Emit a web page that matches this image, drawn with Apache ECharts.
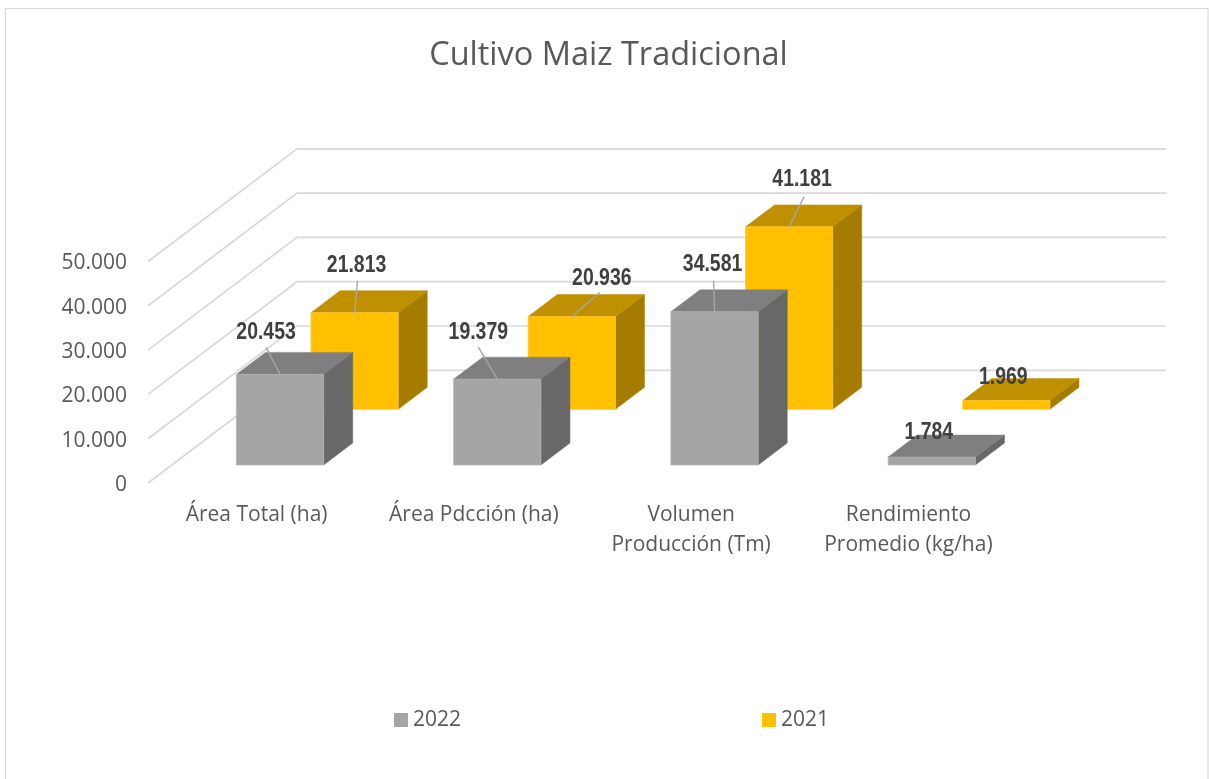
<!DOCTYPE html>
<html>
<head>
<meta charset="utf-8">
<style>html,body{margin:0;padding:0;background:#fff;overflow:hidden}#c{width:1209px;height:779px}</style>
<script src="https://cdn.jsdelivr.net/npm/echarts@6/dist/echarts.min.js"></script>
</head>
<body>
<div id="c"></div>
<script>
const categories = ['Área Total (ha)', 'Área Pdcción (ha)', 'Volumen\nProducción (Tm)', 'Rendimiento\nPromedio (kg/ha)'];
const values2022 = [20453, 19379, 34581, 1784];
const values2021 = [21813, 20936, 41181, 1969];
const axisTicks = [0, 10000, 20000, 30000, 40000, 50000];
const legendNames = ['2022', '2021'];

// oblique projection of the chart floor
const depthX = 149, depthY = -112.7;
// label offsets from the top-centre of each bar's front face [lx, ly, leaderX, leaderY] (leader null = none)
const labelLayout2022 = [[-14,-41.5,-14,-27],[-19,-46.5,-19,-32],[-2,-47.5,-1,-31],[-3,-25,null,null]];
const labelLayout2021 = [[2,-47.5,3,-32],[30,-38.5,28,-24],[13,-47.5,15,-30],[-3,-23.5,null,null]];

const fmt = v => String(Math.round(v)).replace(/\B(?=(\d{3})+$)/g, '.');

function wallItem(params, api) {
  const cs = params.coordSys;
  const y = api.coord([0, api.value(0)])[1];
  const x0 = cs.x, x1 = cs.x + cs.width;
  return {
    type: 'polyline',
    shape: { points: [[x0, y], [x0 + depthX, y + depthY], [x1 + depthX, y + depthY]] },
    style: { stroke: '#D9D9D9', lineWidth: 1.7, fill: null }
  };
}

function barRenderer(depthStart, nudge, colors, layout) {
  const dFrac = 0.195, half = 43.6;
  return function (params, api) {
    const idx = api.value(0), val = api.value(1);
    const top = api.coord([idx, val]);
    const base = api.coord([idx, 0]);
    const sx = depthX * depthStart + nudge, sy = depthY * depthStart;
    const dx = depthX * dFrac, dy = depthY * dFrac;
    const l = top[0] + sx - half, r = top[0] + sx + half;
    const t = top[1] + sy, b = base[1] + sy;
    const cx = top[0] + sx;
    const kids = [
      { type: 'polygon', shape: { points: [[r, t], [r + dx, t + dy], [r + dx, b + dy], [r, b]] }, style: { fill: colors.side, stroke: colors.side, lineWidth: 0.5 } },
      { type: 'polygon', shape: { points: [[l, t], [l + dx, t + dy], [r + dx, t + dy], [r, t]] }, style: { fill: colors.top, stroke: colors.top, lineWidth: 0.5 } },
      { type: 'rect', shape: { x: l, y: t, width: r - l, height: b - t }, style: { fill: colors.front, stroke: colors.edge, lineWidth: 0.8 } }
    ];
    const lay = layout[idx];
    if (lay[2] !== null) {
      kids.push({ type: 'line', shape: { x1: cx + lay[2], y1: t + lay[3], x2: cx, y2: t }, style: { stroke: '#A6A6A6', lineWidth: 1.4 } });
    }
    kids.push({
      type: 'text', z2: 10,
      x: cx + lay[0], y: t + lay[1], scaleX: 0.81,
      style: {
        x: 0, y: 0, text: fmt(val), align: 'center', verticalAlign: 'middle',
        font: 'bold 24px "Liberation Sans", sans-serif', fill: '#404040'
      }
    });
    return { type: 'group', children: kids };
  };
}

const chart = echarts.init(document.getElementById('c'), null, { renderer: 'canvas' });
chart.setOption({
  animation: false,
  backgroundColor: '#fff',
  graphic: [{ type: 'rect', z: -1, silent: true, shape: { x: 5.5, y: 8.5, width: 1202.5, height: 820 }, style: { fill: 'none', stroke: '#D9D9D9', lineWidth: 1.2 } }],
  title: {
    text: 'Cultivo Maiz Tradicional', left: 603.5, top: 34, textAlign: 'center',
    textStyle: { fontFamily: '"Open Sans"', fontSize: 32.5, fontWeight: 'normal', color: '#595959' }
  },
  legend: {
    data: legendNames, left: 389, top: 704.5, itemWidth: 14, itemHeight: 14, itemGap: 301, icon: 'rect',
    textStyle: { fontFamily: '"Open Sans"', fontSize: 21, color: '#595959' }
  },
  grid: { left: 148, top: 261.5, width: 869, height: 221.5 },
  xAxis: {
    type: 'category', data: categories,
    axisLine: { show: false }, axisTick: { show: false },
    axisLabel: { interval: 0, margin: 17, lineHeight: 30, fontFamily: '"Open Sans"', fontSize: 21, color: '#595959' }
  },
  yAxis: {
    type: 'value', min: 0, max: 50000, interval: 10000,
    axisLine: { show: false }, axisTick: { show: false }, splitLine: { show: false },
    axisLabel: { margin: 21, verticalAlign: 'top', lineHeight: 4, fontFamily: '"Open Sans"', fontSize: 21, color: '#595959', formatter: fmt }
  },
  series: [
    { name: 'walls', type: 'custom', silent: true, renderItem: wallItem, data: axisTicks.map(v => [v]), encode: { y: 0 }, z: 1 },
    {
      name: '2021', type: 'custom', z: 2, itemStyle: { color: '#FFC000' },
      renderItem: barRenderer(0.654, 0.5, { front: '#FFC000', top: '#BF9000', side: '#A67C00', edge: '#FFC82E' }, labelLayout2021),
      data: values2021.map((v, i) => [i, v]), encode: { x: 0, y: 1 }
    },
    {
      name: '2022', type: 'custom', z: 3, itemStyle: { color: '#A5A5A5' },
      renderItem: barRenderer(0.16, -0.4, { front: '#A5A5A5', top: '#7F7F7F', side: '#686868', edge: '#B0B0B0' }, labelLayout2022),
      data: values2022.map((v, i) => [i, v]), encode: { x: 0, y: 1 }
    }
  ]
});
</script>
</body>
</html>
